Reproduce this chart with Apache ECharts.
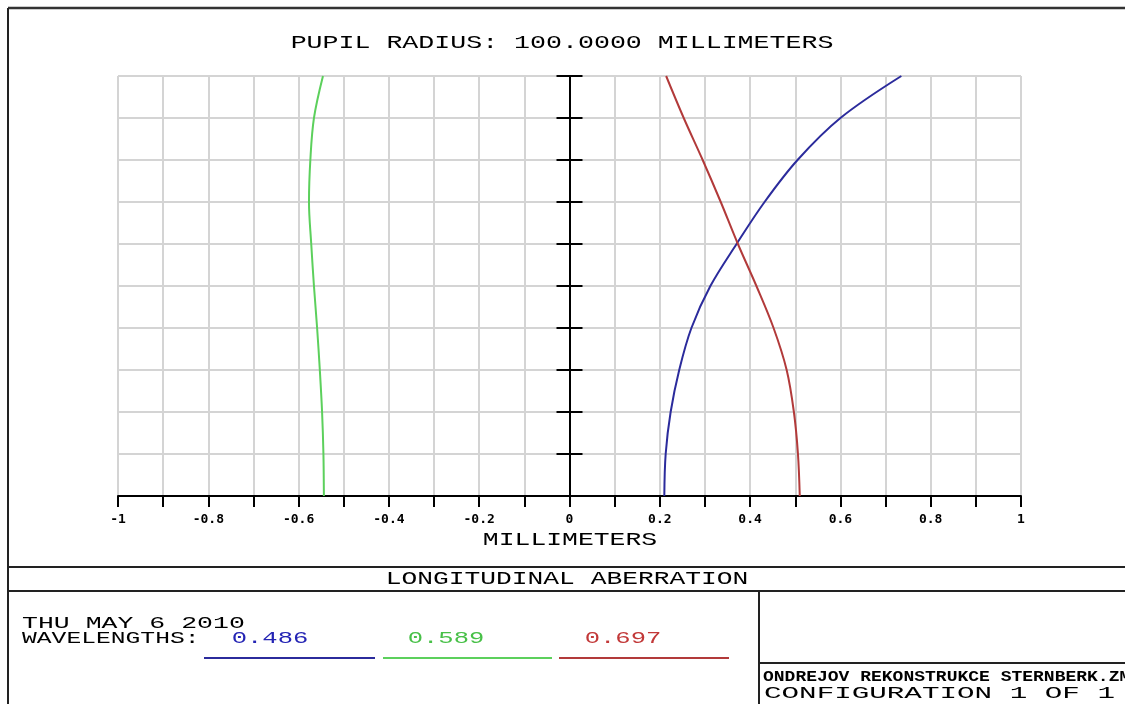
<!DOCTYPE html>
<html>
<head>
<meta charset="utf-8">
<title>Longitudinal aberration</title>
<script src="https://cdn.jsdelivr.net/npm/echarts@6/dist/echarts.min.js"></script>
<style>
  html, body { margin: 0; padding: 0; background: #fff; }
  #chart { width: 1125px; height: 704px; }
</style>
</head>
<body>
<div id="chart"></div>
<script>
// normalized pupil coordinate (y) shared by all three wavelengths
const pupil = [0, 0.1, 0.2, 0.3, 0.4, 0.5, 0.6, 0.7, 0.8, 0.9, 1.0]
// longitudinal aberration in millimeters
const blue486 = [0.210, 0.213, 0.224, 0.243, 0.270, 0.312, 0.370, 0.432, 0.505, 0.600, 0.735]
const green589 = [-0.544, -0.545, -0.548, -0.553, -0.559, -0.566, -0.572, -0.577, -0.574, -0.566, -0.546]
const red697 = [0.510, 0.506, 0.497, 0.481, 0.452, 0.414, 0.373, 0.335, 0.295, 0.253, 0.214]

const wavelengths = ['0.486', '0.589', '0.697']
const xTickValues = [-1, -0.8, -0.6, -0.4, -0.2, 0, 0.2, 0.4, 0.6, 0.8, 1]
const xTickLabels = ['-1', '-0.8', '-0.6', '-0.4', '-0.2', '0', '0.2', '0.4', '0.6', '0.8', '1']

const curveColors = ['#2b2b9c', '#5cd05c', '#b23a3a']
const textColors = ['#2424b4', '#48c048', '#c23838']
const FONT = '"Liberation Mono", "DejaVu Sans Mono", monospace'

function pairs (xs) {
  return xs.map((x, i) => [x, pupil[i]])
}

function label (text, x, y, size, scaleX, opts) {
  opts = opts || {}
  return {
    type: 'text',
    x: x,
    y: y,
    scaleX: scaleX,
    z: 10,
    style: {
      text: text,
      font: (opts.bold ? 'bold ' : '') + size + 'px ' + FONT,
      fill: opts.color || '#000',
      textAlign: opts.align || 'center',
      textVerticalAlign: 'middle'
    }
  }
}

function hline (x1, x2, y, color, w) {
  return { type: 'line', z: 10, shape: { x1: x1, y1: y, x2: x2, y2: y }, style: { stroke: color || '#222', lineWidth: w || 2 } }
}

function vline (x, y1, y2, color, w) {
  return { type: 'line', z: 10, shape: { x1: x, y1: y1, x2: x, y2: y2 }, style: { stroke: color || '#222', lineWidth: w || 2 } }
}

let chart = echarts.init(document.getElementById('chart'))

let graphics = [
  // frame
  hline(8, 1125, 8, '#333', 2.5),
  vline(8, 8, 704, '#222', 2),
  hline(8, 1125, 567),
  hline(8, 1125, 591),
  vline(759, 591, 704),
  hline(759, 1125, 663),
  // texts
  label('PUPIL RADIUS: 100.0000 MILLIMETERS', 562, 43, 19, 1.4),
  label('MILLIMETERS', 570, 540, 19, 1.39),
  label('LONGITUDINAL ABERRATION', 567, 579, 18, 1.46),
  label('THU MAY 6 2010', 22, 623, 17, 1.56, { align: 'left' }),
  label('WAVELENGTHS:', 22, 638, 17, 1.45, { align: 'left' }),
  label('ONDREJOV REKONSTRUKCE STERNBERK.ZMX', 763, 677, 15, 1.2, { align: 'left', bold: true }),
  label('CONFIGURATION 1 OF 1', 764, 693, 17, 1.72, { align: 'left' })
]

// legend entries: wavelength number above a coloured line
const legendText = [270, 446, 623]
const legendLine = [[204, 375], [383, 552], [559, 729]]
wavelengths.forEach((w, i) => {
  graphics.push(label(w, legendText[i], 638, 17, 1.5, { color: textColors[i] }))
  graphics.push(hline(legendLine[i][0], legendLine[i][1], 658, curveColors[i], 2))
})

let option = {
  animation: false,
  backgroundColor: '#fff',
  grid: { left: 118, right: 104, top: 76, bottom: 208, containLabel: false },
  xAxis: {
    type: 'value',
    min: -1,
    max: 1,
    interval: 0.1,
    axisLine: { onZero: false, lineStyle: { color: '#000', width: 2 } },
    axisTick: { show: true, length: 11, lineStyle: { color: '#000', width: 2 } },
    axisLabel: {
      margin: 17,
      color: '#000',
      fontFamily: 'DejaVu Sans Mono',
      fontWeight: 'bold',
      fontSize: 13,
      formatter: function (v) {
        let idx = xTickValues.findIndex(t => Math.abs(t - v) < 1e-6)
        return idx >= 0 ? xTickLabels[idx] : ''
      }
    },
    splitLine: { show: true, lineStyle: { color: '#d4d4d4', width: 2 } }
  },
  yAxis: [
    {
      type: 'value',
      min: 0,
      max: 1,
      interval: 0.1,
      position: 'left',
      axisLine: { show: true, onZero: true, onZeroAxisIndex: 0, lineStyle: { color: '#000', width: 2 } },
      axisTick: { show: true, length: 13, lineStyle: { color: '#000', width: 2 } },
      axisLabel: { show: false },
      splitLine: { show: true, lineStyle: { color: '#d4d4d4', width: 2 } }
    },
    {
      type: 'value',
      min: 0,
      max: 1,
      interval: 0.1,
      position: 'left',
      axisLine: { show: true, onZero: true, onZeroAxisIndex: 0, lineStyle: { color: '#000', width: 2 } },
      axisTick: { show: true, inside: true, length: 13, lineStyle: { color: '#000', width: 2 } },
      axisLabel: { show: false },
      splitLine: { show: false }
    }
  ],
  series: [
    { name: wavelengths[0], data: pairs(blue486), color: curveColors[0] },
    { name: wavelengths[1], data: pairs(green589), color: curveColors[1] },
    { name: wavelengths[2], data: pairs(red697), color: curveColors[2] }
  ].map(s => ({
    type: 'line',
    name: s.name,
    data: s.data,
    smooth: 0.35,
    showSymbol: false,
    yAxisIndex: 0,
    lineStyle: { color: s.color, width: 2 },
    itemStyle: { color: s.color },
    z: 3
  })),
  graphic: graphics
}

chart.setOption(option)
window.onresize = function () {
  chart.resize()
}
</script>
</body>
</html>
